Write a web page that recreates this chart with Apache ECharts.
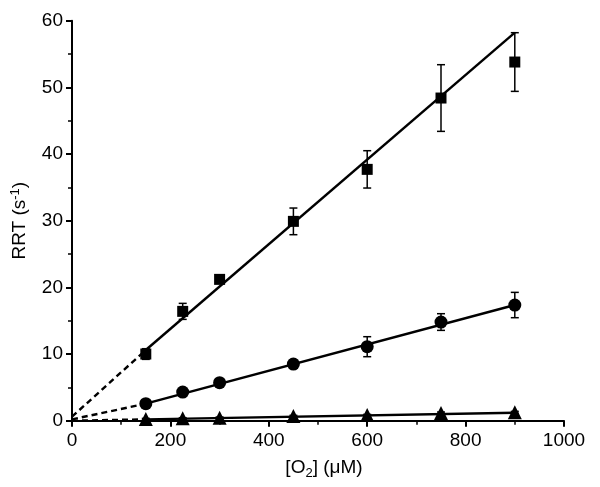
<!DOCTYPE html>
<html><head><meta charset="utf-8">
<script src="https://cdn.jsdelivr.net/npm/echarts@6/dist/echarts.min.js"></script>
<style>html,body{margin:0;padding:0;background:#fff}#c{width:600px;height:487px}</style>
</head><body><div id="c"></div>
<script>
const xValues = [150, 225, 300, 450, 600, 750, 900];
const squareY = [10.0, 16.4, 21.2, 29.9, 37.7, 48.4, 53.8];
const squareErr = [0.8, 1.2, 0.6, 2.0, 2.8, 5.0, 4.4];
const circleY = [2.55, 4.3, 5.7, 8.5, 11.1, 14.8, 17.35];
const circleErr = [0.3, 0.3, 0.3, 0.6, 1.5, 1.25, 1.9];
const triangleY = [0.25, 0.35, 0.45, 0.7, 0.85, 1.15, 1.25];
const triangleErr = [0.1, 0.1, 0.1, 0.1, 0.1, 0.15, 0.15];
// fitted lines: solid part and dashed extrapolation to origin
const squareFitX = [150, 900], squareFitY = [10.6, 58.2];
const squareDashX = [0, 150], squareDashY = [0.6, 10.6];
const circleFitX = [150, 900], circleFitY = [2.55, 17.35];
const circleDashX = [0, 150], circleDashY = [0.2, 2.55];
const triFitX = [150, 900], triFitY = [0.2, 1.2];
const triDashX = [0, 150], triDashY = [0.0, 0.2];
const xTicks = [0, 200, 400, 600, 800, 1000];
const yTicks = [0, 10, 20, 30, 40, 50, 60];

const pairs = (xs, ys) => xs.map((x, i) => [x, ys[i]]);
const errData = (ys, es) => xValues.map((x, i) => [x, ys[i] - es[i], ys[i] + es[i]]);

function errSeries(ys, es) {
  return {
    type: 'custom', data: errData(ys, es), z: 3,
    renderItem: function (params, api) {
      const lo = api.coord([api.value(0), api.value(1)]);
      const hi = api.coord([api.value(0), api.value(2)]);
      const w = 4;
      const st = { stroke: '#000', lineWidth: 1.5 };
      return { type: 'group', children: [
        { type: 'line', shape: { x1: lo[0], y1: lo[1], x2: hi[0], y2: hi[1] }, style: st },
        { type: 'line', shape: { x1: lo[0] - w, y1: lo[1], x2: lo[0] + w, y2: lo[1] }, style: st },
        { type: 'line', shape: { x1: hi[0] - w, y1: hi[1], x2: hi[0] + w, y2: hi[1] }, style: st }
      ]};
    }
  };
}
function lineSeries(xs, ys, dashed) {
  return { type: 'line', data: pairs(xs, ys), showSymbol: false, symbol: 'none', z: 2,
    lineStyle: { color: '#000', width: 2.4, opacity: 1, type: dashed ? [6, 4] : 'solid' }, silent: true };
}
function scatterSeries(ys, sym, size) {
  return { type: 'scatter', data: pairs(xValues, ys), symbol: sym, symbolSize: size, z: 4,
    itemStyle: { color: '#000', opacity: 1 } };
}

const chart = echarts.init(document.getElementById('c'));
chart.setOption({
  animation: false,
  textStyle: { fontFamily: 'Liberation Sans, Arial, sans-serif' },
  grid: { left: 72, right: 36, top: 20.7, bottom: 66.3, containLabel: false, outerBoundsMode: 'none' },
  xAxis: {
    type: 'value', min: 0, max: 1000, interval: 200,
    axisLine: { onZero: false, lineStyle: { color: '#000', width: 2 } },
    axisTick: { inside: false, length: 6, lineStyle: { color: '#000', width: 2 } },
    minorTick: { show: true, splitNumber: 2, length: 4, lineStyle: { color: '#000', width: 1.5 } },
    splitLine: { show: false },
    axisLabel: { color: '#000', fontSize: 19, margin: 11, formatter: v => String(v) },
    name: '[O{sub|2}] (μM)', nameLocation: 'middle', nameGap: 35,
    nameTextStyle: { color: '#000', fontSize: 19, padding: [0, 0, 0, 12], rich: { sub: { fontSize: 13, verticalAlign: 'bottom', padding: [11, 0, 0, 0] } } }
  },
  yAxis: {
    type: 'value', min: 0, max: 60, interval: 10,
    axisLine: { show: true, onZero: false, lineStyle: { color: '#000', width: 2 } },
    axisTick: { show: true, inside: false, length: 6, lineStyle: { color: '#000', width: 2 } },
    minorTick: { show: true, splitNumber: 2, length: 4, lineStyle: { color: '#000', width: 1.5 } },
    splitLine: { show: false },
    axisLabel: { color: '#000', fontSize: 19, margin: 9 },
    name: 'RRT (s{sup|-1})', nameLocation: 'middle', nameGap: 41, nameRotate: 90,
    nameTextStyle: { color: '#000', fontSize: 19, rich: { sup: { fontSize: 13, verticalAlign: 'top', padding: [0, 0, 9, 0] } } }
  },
  series: [
    lineSeries(squareDashX, squareDashY, true),
    lineSeries(squareFitX, squareFitY, false),
    lineSeries(circleDashX, circleDashY, true),
    lineSeries(circleFitX, circleFitY, false),
    lineSeries(triDashX, triDashY, true),
    lineSeries(triFitX, triFitY, false),
    errSeries(squareY, squareErr),
    errSeries(circleY, circleErr),
    errSeries(triangleY, triangleErr),
    scatterSeries(squareY, 'rect', 11),
    scatterSeries(circleY, 'circle', 13),
    scatterSeries(triangleY, 'triangle', 14)
  ]
});
</script></body></html>
